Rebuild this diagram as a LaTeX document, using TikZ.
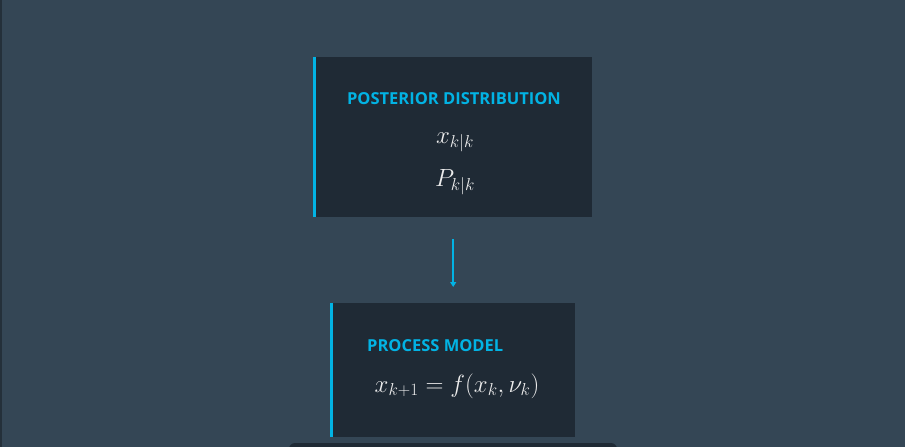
\documentclass[tikz,border=0pt]{standalone}
\usepackage{fontspec}
\setsansfont{Open Sans}
\usetikzlibrary{positioning,arrows.meta}
\definecolor{backdrop}{RGB}{52,70,85}
\definecolor{edgeline}{RGB}{36,48,58}
\definecolor{panel}{RGB}{31,42,53}
\definecolor{accent}{RGB}{2,179,228}
\definecolor{chalk}{RGB}{236,236,236}

\tikzset{
  panelbox/.style={fill=panel, draw=none, anchor=north west, inner sep=0pt},
  accentbar/.style={draw=accent, line width=3pt},
  heading/.style={text=accent, inner sep=0pt, font=\sffamily\bfseries\fontsize{16.5}{19}\selectfont},
  formula/.style={text=chalk, inner sep=0pt, font=\fontsize{26}{30}\selectfont},
  flow/.style={draw=accent, line width=1.5pt, -{Triangle[length=5pt,width=6pt]}},
}

\begin{document}
\begin{tikzpicture}[x=1pt,y=-1pt]
  \fill [backdrop] (0,0) rectangle (905,447);
  \useasboundingbox (0,0) rectangle (905,447);
  \fill [edgeline] (0,0) rectangle (1.5,447);

  % posterior distribution
  \node [panelbox, minimum width=278pt, minimum height=160pt] (posterior) at (314,57) {};
  \draw [accentbar] (posterior.north west) -- (posterior.south west);
  \node [heading] (posttitle) at (454,99) {POSTERIOR DISTRIBUTION};
  \node [formula, font=\fontsize{27}{30}\selectfont] (postx) at (455,142) {$x_{k|k}$};
  \node [formula, font=\fontsize{27}{30}\selectfont] (postp) at (455,182) {$P_{k|k}$};

  % process model
  \node [panelbox, minimum width=244pt, minimum height=134pt] (process) at (331,303) {};
  \draw [accentbar] (process.north west) -- (process.south west);
  \node [heading, anchor=west] (proctitle) at (367,346) {PROCESS MODEL};
  \node [formula] (proceq) at (457,386) {$x_{k+1} = f(x_k, \nu_k)$};

  \draw [flow, shorten <=22pt, shorten >=16pt] (posterior.south) -- (process.north);

  % next box, cut off
  \begin{scope}
    \clip (0,0) rectangle (905,447);
    \fill [panel, rounded corners=6pt] (289,443) rectangle (617,470);
  \end{scope}
\end{tikzpicture}
\end{document}
